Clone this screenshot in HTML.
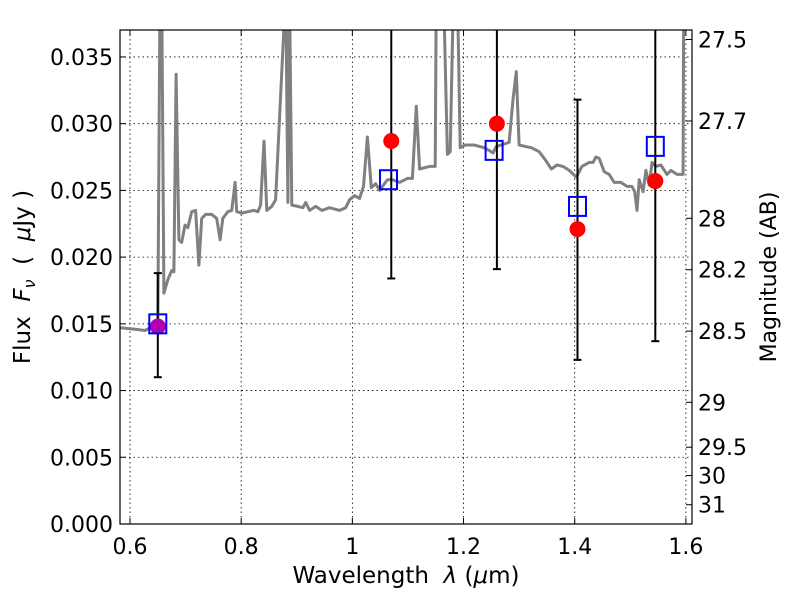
<!DOCTYPE html>
<html><head><meta charset="utf-8">
<style>
body{margin:0;background:#fff;}
svg{display:block;font-family:"DejaVu Sans","Liberation Sans",sans-serif;}
text{white-space:pre;}
</style></head>
<body>
<svg id="chart" width="800" height="600" viewBox="0 0 800 600" style="position:absolute;left:0;top:0;">
</svg>
<script>
const specLam=[0.582,0.609,0.627,0.636,0.645,0.650,0.654,0.657,0.661,0.668,0.675,0.679,0.683,0.688,0.693,0.699,0.704,0.711,0.718,0.724,0.729,0.736,0.747,0.756,0.762,0.767,0.776,0.783,0.789,0.792,0.801,0.812,0.823,0.830,0.835,0.841,0.846,0.855,0.862,0.880,0.884,0.887,0.891,0.902,0.911,0.916,0.923,0.934,0.945,0.959,0.977,0.988,0.995,1.004,1.013,1.020,1.027,1.034,1.042,1.049,1.063,1.072,1.085,1.099,1.108,1.115,1.121,1.139,1.149,1.151,1.164,1.171,1.176,1.182,1.189,1.194,1.203,1.219,1.237,1.246,1.253,1.259,1.268,1.282,1.289,1.295,1.300,1.311,1.322,1.336,1.347,1.358,1.368,1.379,1.390,1.403,1.413,1.426,1.433,1.438,1.444,1.453,1.462,1.471,1.483,1.494,1.503,1.508,1.512,1.516,1.523,1.528,1.534,1.539,1.546,1.555,1.566,1.573,1.584,1.595,1.596,1.611];
const specFlux=[0.0147,0.0146,0.0145,0.0147,0.0145,0.0146,0.040,0.040,0.0173,0.0183,0.0190,0.0189,0.0337,0.0213,0.0211,0.0224,0.0222,0.0234,0.0235,0.0194,0.0229,0.0232,0.0232,0.0229,0.0213,0.0229,0.0234,0.0235,0.0256,0.0234,0.0233,0.0234,0.0235,0.0234,0.0239,0.0287,0.0235,0.0238,0.0243,0.040,0.0241,0.040,0.0239,0.0238,0.0237,0.0241,0.0235,0.0238,0.0235,0.0237,0.0235,0.0237,0.0243,0.0246,0.0244,0.0253,0.0290,0.0252,0.0255,0.0250,0.0258,0.0258,0.0256,0.0259,0.0259,0.0313,0.0266,0.0268,0.0268,0.040,0.040,0.0277,0.0279,0.040,0.040,0.0282,0.0284,0.0284,0.0282,0.0280,0.0278,0.0283,0.0284,0.0286,0.0318,0.0339,0.0284,0.0283,0.0282,0.0279,0.0273,0.0266,0.0269,0.0268,0.0265,0.0260,0.0268,0.0271,0.0271,0.0275,0.0274,0.0264,0.0262,0.0256,0.0256,0.0253,0.0253,0.0249,0.0235,0.0258,0.0249,0.0265,0.0254,0.0271,0.0268,0.0269,0.0262,0.0265,0.0262,0.0262,0.040,0.040];
const obsLam=[0.650,1.070,1.260,1.405,1.545];
const obsFlux=[0.0148,0.0287,0.0300,0.0221,0.0257];
const obsLo=[0.0110,0.0184,0.0191,0.0123,0.0137];
const obsHi=[0.0188,0.045,0.045,0.0318,0.045];
const modLam=[0.650,1.065,1.255,1.405,1.545];
const modFlux=[0.0150,0.0258,0.0280,0.0238,0.0283];
const xTicks=[0.6,0.8,1.0,1.2,1.4,1.6];
const xTickLabels=["0.6","0.8","1","1.2","1.4","1.6"];
const yTicks=[0,0.005,0.010,0.015,0.020,0.025,0.030,0.035];
const yTickLabels=["0.000","0.005","0.010","0.015","0.020","0.025","0.030","0.035"];
const magTicks=[27.5,27.7,28,28.2,28.5,29,29.5,30,31];
const magTickLabels=["27.5","27.7","28","28.2","28.5","29","29.5","30","31"];

const L=120,R=692,T=30,B=524;
const X0=0.582,X1=1.611,Y0=0,Y1=0.03702;
const sx=v=>L+(v-X0)/(X1-X0)*(R-L);
const sy=v=>B-(v-Y0)/(Y1-Y0)*(B-T);
const magToFlux=m=>Math.pow(10,(23.9-m)/2.5);
const NS="http://www.w3.org/2000/svg";
const svg=document.getElementById('chart');
function mk(tag,attrs,parent){const e=document.createElementNS(NS,tag);for(const k in attrs)e.setAttribute(k,attrs[k]);(parent||svg).appendChild(e);return e;}

const defs=mk('defs',{});
const cp=mk('clipPath',{id:'plotclip'},defs);
mk('rect',{x:L,y:T,width:R-L,height:B-T},cp);

const grid=mk('g',{});


xTicks.forEach(v=>{mk('line',{x1:sx(v),x2:sx(v),y1:T,y2:B,stroke:'#000','stroke-width':0.8,'stroke-dasharray':'1.5,3'},grid);});
yTicks.forEach(v=>{mk('line',{x1:L,x2:R,y1:sy(v),y2:sy(v),stroke:'#000','stroke-width':0.8,'stroke-dasharray':'1.5,3'},grid);});

const g=mk('g',{'clip-path':'url(#plotclip)'});
let d='';
specLam.forEach((l,i)=>{d+=(i?'L':'M')+sx(l).toFixed(1)+','+sy(specFlux[i]).toFixed(1);});
const sp=mk('path',{d:d,fill:'none',stroke:'#808080','stroke-width':3,'stroke-linejoin':'round'},g);



obsLam.forEach((l,i)=>{
  const eg=mk('g',{},g);
  
  
  const x=sx(l);
  mk('line',{x1:x,x2:x,y1:sy(obsLo[i]),y2:sy(obsHi[i]),stroke:'#000','stroke-width':2},eg);
  mk('line',{x1:x-4,x2:x+4,y1:sy(obsLo[i]),y2:sy(obsLo[i]),stroke:'#000','stroke-width':2},eg);
  mk('line',{x1:x-4,x2:x+4,y1:sy(obsHi[i]),y2:sy(obsHi[i]),stroke:'#000','stroke-width':2},eg);
});
obsLam.forEach((l,i)=>{
  const c=mk('circle',{cx:sx(l),cy:sy(obsFlux[i]),r:8,fill:i===0?'#b000b0':'#ff0000'},g);
  
  
});
modLam.forEach((l,i)=>{
  const s=mk('rect',{x:sx(l)-8.5,y:sy(modFlux[i])-9.5,width:17,height:19,fill:'none',stroke:'#0000ff','stroke-width':2},g);
  
  
});

const fr=mk('rect',{x:L,y:T,width:R-L,height:B-T,fill:'none',stroke:'#000','stroke-width':1.2});



xTicks.forEach((v,i)=>{
  const x=sx(v);
  mk('line',{x1:x,x2:x,y1:B,y2:B-6,stroke:'#000'});
  mk('line',{x1:x,x2:x,y1:T,y2:T+6,stroke:'#000'});
  const t=mk('text',{x:x,y:B+30,'font-size':22,'text-anchor':'middle'});
  t.textContent=xTickLabels[i];
  
  
});
yTicks.forEach((v,i)=>{
  const y=sy(v);
  mk('line',{x1:L,x2:L+6,y1:y,y2:y,stroke:'#000'});
  const t=mk('text',{x:L-7,y:y+8,'font-size':22,'text-anchor':'end'});
  t.textContent=yTickLabels[i];
  
  
});
magTicks.forEach((m,i)=>{
  const y=sy(magToFlux(m));
  mk('line',{x1:R,x2:R-6,y1:y,y2:y,stroke:'#000'});
  const t=mk('text',{x:R+6,y:y+8,'font-size':22,'text-anchor':'start'});
  t.textContent=magTickLabels[i];
  
  
});
</script>
<svg width="800" height="600" style="position:absolute;left:0;top:0;pointer-events:none;font-family:'DejaVu Sans','Liberation Sans',sans-serif;">
<text x="406" y="583" font-size="23" text-anchor="middle" xml:space="preserve">Wavelength  <tspan font-style="italic">λ</tspan> (<tspan font-style="italic">μ</tspan>m)</text>
<text transform="translate(30,277) rotate(-90)" font-size="23" text-anchor="middle" xml:space="preserve">Flux  <tspan font-style="italic">F</tspan><tspan font-style="italic" font-size="16" dy="5">ν</tspan><tspan dy="-5">  (  </tspan><tspan font-style="italic">μ</tspan>Jy )</text>
<text transform="translate(776,277) rotate(-90)" font-size="22" text-anchor="middle">Magnitude (AB)</text>
</svg>
</body></html>
